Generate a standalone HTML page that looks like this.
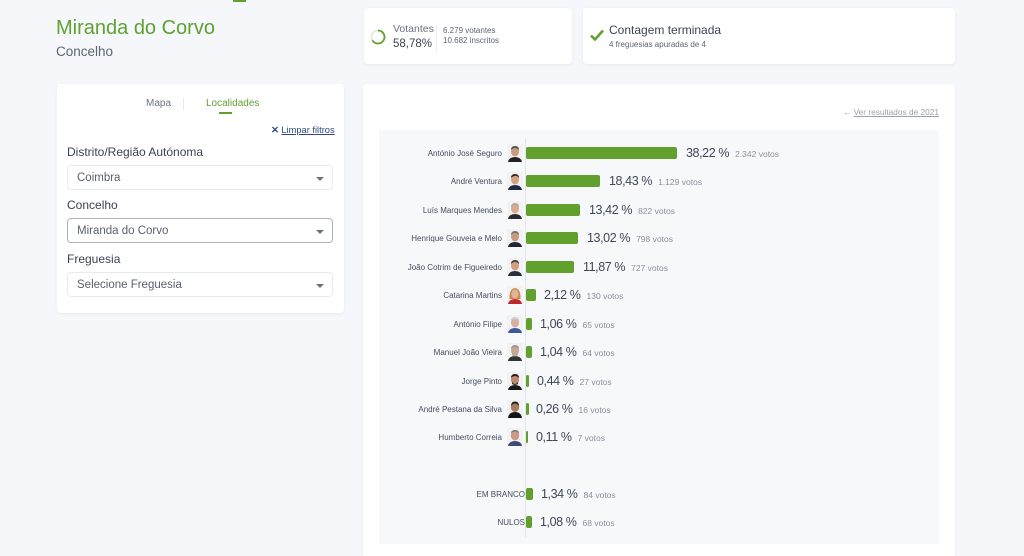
<!DOCTYPE html>
<html><head><meta charset="utf-8">
<style>
*{margin:0;padding:0;box-sizing:border-box}
html,body{width:1024px;height:556px;overflow:hidden}
body{background:#f5f7fb;font-family:"Liberation Sans",sans-serif;position:relative}
.a{position:absolute;white-space:nowrap}
.card{position:absolute;background:#fff;border-radius:4px;box-shadow:0 1px 3px rgba(0,0,0,0.06)}
.sel{position:absolute;left:67px;width:266px;height:25px;border:1px solid #e9ebf0;border-radius:4px;background:#fff}
.sel span{position:absolute;left:9px;top:6px;font-size:11.5px;color:#5a6070}
.sel i{position:absolute;left:248px;top:11px;width:0;height:0;border-left:4px solid transparent;border-right:4px solid transparent;border-top:4px solid #6b7280}
.lbl{position:absolute;left:67px;font-size:12px;color:#3b4252}
.name{position:absolute;right:522px;font-size:8px;color:#454c5c;text-align:right;white-space:nowrap}
.bar{position:absolute;left:526px;height:12px;background:#62a02e;border-radius:2px}
.pct{position:absolute;font-size:12.5px;letter-spacing:-0.4px;color:#3f4656;white-space:nowrap}
.pct small{font-size:8.5px;letter-spacing:0;color:#8a909c;margin-left:6px}
.av{position:absolute;left:507px;width:16px;height:18px}
</style></head><body>

<div class="a" style="left:233px;top:0;width:13px;height:2px;background:#62a02e"></div>
<div class="a" style="left:56px;top:17px;font-size:20px;color:#5fa132">Miranda do Corvo</div>
<div class="a" style="left:56px;top:44px;font-size:13.5px;color:#5d6474">Concelho</div>

<!-- stat cards -->
<div class="card" style="left:364px;top:8px;width:208px;height:56px">
  <svg class="a" style="left:6px;top:21px" width="16" height="16" viewBox="0 0 16 16">
    <circle cx="8" cy="8" r="6.5" fill="none" stroke="#e3e6ea" stroke-width="1.8"/>
    <path d="M8 1.5 A6.5 6.5 0 1 1 2.4 11.3" fill="none" stroke="#62a02e" stroke-width="1.8"/>
  </svg>
  <div class="a" style="left:29px;top:15px;font-size:10.5px;color:#6b7280">Votantes</div>
  <div class="a" style="left:29px;top:30px;font-size:11.5px;color:#3b4252">58,78%</div>
  <div class="a" style="left:72px;top:17px;width:1px;height:27px;background:#eceef2"></div>
  <div class="a" style="left:79px;top:18px;font-size:8px;color:#5d6474">6.279 votantes</div>
  <div class="a" style="left:79px;top:28px;font-size:8px;color:#5d6474">10.682 inscritos</div>
</div>
<div class="card" style="left:583px;top:8px;width:372px;height:56px">
  <svg class="a" style="left:7px;top:21px" width="14" height="12" viewBox="0 0 14 12">
    <path d="M1 6.5 L5 10.5 L13 1.5" fill="none" stroke="#62a02e" stroke-width="2.6"/>
  </svg>
  <div class="a" style="left:26px;top:15px;font-size:12px;color:#3b4252">Contagem terminada</div>
  <div class="a" style="left:26px;top:32px;font-size:8px;color:#5d6474">4 freguesias apuradas de 4</div>
</div>

<!-- left panel -->
<div class="card" style="left:57px;top:84px;width:287px;height:229px"></div>
<div class="a" style="left:146px;top:98px;font-size:10px;color:#6b7280">Mapa</div>
<div class="a" style="left:183px;top:98px;width:1px;height:12px;background:#e5e7eb"></div>
<div class="a" style="left:206px;top:98px;font-size:10px;color:#5fa132">Localidades</div>
<div class="a" style="left:219px;top:112px;width:13px;height:2px;background:#62a02e"></div>
<div class="a" style="left:271px;top:125px;font-size:9.3px;color:#2c4a85"><b>✕</b> <span style="text-decoration:underline">Limpar filtros</span></div>

<div class="lbl" style="top:145px">Distrito/Região Autónoma</div>
<div class="sel" style="top:165px"><span>Coimbra</span><i></i></div>
<div class="lbl" style="top:198px">Concelho</div>
<div class="sel" style="top:218px;border-color:#aeb2ba"><span>Miranda do Corvo</span><i></i></div>
<div class="lbl" style="top:252px">Freguesia</div>
<div class="sel" style="top:272px"><span>Selecione Freguesia</span><i></i></div>

<!-- main panel -->
<div class="card" style="left:363px;top:84px;width:592px;height:472px;border-bottom-left-radius:0;border-bottom-right-radius:0"></div>
<div class="a" style="left:843px;top:107px;font-size:8.3px;color:#9aa0ac">&#8592; <span style="text-decoration:underline">Ver resultados de 2021</span></div>
<div class="a" style="left:379px;top:130px;width:560px;height:414px;background:#f7f8fa"></div>
<div class="a" style="left:525px;top:138px;width:1px;height:399px;background:#e2e5ea"></div>

<!-- rows -->
<div class="name" style="top:149px">António José Seguro</div>
<div class="bar" style="top:147px;width:151px"></div>
<div class="pct" style="left:686px;top:146px">38,22 %<small>2.342 votos</small></div>

<div class="name" style="top:177px">André Ventura</div>
<div class="bar" style="top:175px;width:74px"></div>
<div class="pct" style="left:609px;top:174px">18,43 %<small>1.129 votos</small></div>

<div class="name" style="top:206px">Luís Marques Mendes</div>
<div class="bar" style="top:204px;width:54px"></div>
<div class="pct" style="left:589px;top:203px">13,42 %<small>822 votos</small></div>

<div class="name" style="top:234px">Henrique Gouveia e Melo</div>
<div class="bar" style="top:232px;width:52px"></div>
<div class="pct" style="left:587px;top:231px">13,02 %<small>798 votos</small></div>

<div class="name" style="top:263px">João Cotrim de Figueiredo</div>
<div class="bar" style="top:261px;width:48px"></div>
<div class="pct" style="left:583px;top:260px">11,87 %<small>727 votos</small></div>

<div class="name" style="top:291px">Catarina Martins</div>
<div class="bar" style="top:289px;width:10px"></div>
<div class="pct" style="left:544px;top:288px">2,12 %<small>130 votos</small></div>

<div class="name" style="top:320px">António Filipe</div>
<div class="bar" style="top:318px;width:6px"></div>
<div class="pct" style="left:540px;top:317px">1,06 %<small>65 votos</small></div>

<div class="name" style="top:348px">Manuel João Vieira</div>
<div class="bar" style="top:346px;width:6px"></div>
<div class="pct" style="left:540px;top:345px">1,04 %<small>64 votos</small></div>

<div class="name" style="top:377px">Jorge Pinto</div>
<div class="bar" style="top:375px;width:3px"></div>
<div class="pct" style="left:537px;top:374px">0,44 %<small>27 votos</small></div>

<div class="name" style="top:405px">André Pestana da Silva</div>
<div class="bar" style="top:403px;width:3px"></div>
<div class="pct" style="left:536px;top:402px">0,26 %<small>16 votos</small></div>

<div class="name" style="top:433px">Humberto Correia</div>
<div class="bar" style="top:431px;width:2px"></div>
<div class="pct" style="left:536px;top:430px">0,11 %<small>7 votos</small></div>

<div class="name" style="top:490px;right:499px">EM BRANCO</div>
<div class="bar" style="top:488px;width:7px"></div>
<div class="pct" style="left:541px;top:487px">1,34 %<small>84 votos</small></div>

<div class="name" style="top:518px;right:499px">NULOS</div>
<div class="bar" style="top:516px;width:6px"></div>
<div class="pct" style="left:540px;top:515px">1,08 %<small>68 votos</small></div>

<!-- avatars -->
<svg class="av" style="top:144px" viewBox="0 0 16 18"><rect width="16" height="18" fill="#f2f2f2"/><path d="M1 18 Q2 13 8 13 Q14 13 15 18Z" fill="#222"/><ellipse cx="8" cy="7.5" rx="4" ry="5" fill="#c89a80"/><path d="M4 6 Q4 2 8 2 Q12 2 12 6 Q10 4 8 4 Q6 4 4 6Z" fill="#555"/></svg>
<svg class="av" style="top:172px" viewBox="0 0 16 18"><rect width="16" height="18" fill="#f2f2f2"/><path d="M1 18 Q2 13 8 13 Q14 13 15 18Z" fill="#1f2a44"/><ellipse cx="8" cy="7.5" rx="4" ry="5" fill="#d2a282"/><path d="M4 6 Q4 2 8 2 Q12 2 12 6 Q10 3.5 8 4 Q6 4 4 6Z" fill="#3a2a20"/></svg>
<svg class="av" style="top:201px" viewBox="0 0 16 18"><rect width="16" height="18" fill="#f2f2f2"/><path d="M1 18 Q2 13 8 13 Q14 13 15 18Z" fill="#2a2a2a"/><ellipse cx="8" cy="7.5" rx="4" ry="5" fill="#d8ab90"/><path d="M4 6 Q4 2 8 2 Q12 2 12 6 Q10 4 8 4 Q6 4 4 6Z" fill="#b0aaa0"/></svg>
<svg class="av" style="top:229px" viewBox="0 0 16 18"><rect width="16" height="18" fill="#f2f2f2"/><path d="M1 18 Q2 13 8 13 Q14 13 15 18Z" fill="#1e2535"/><ellipse cx="8" cy="7.5" rx="4" ry="5" fill="#c99a80"/><path d="M4 6 Q4 2 8 2 Q12 2 12 6 Q10 4 8 4 Q6 4 4 6Z" fill="#777"/></svg>
<svg class="av" style="top:258px" viewBox="0 0 16 18"><rect width="16" height="18" fill="#f2f2f2"/><path d="M1 18 Q2 13 8 13 Q14 13 15 18Z" fill="#2a2f3a"/><ellipse cx="8" cy="7.5" rx="4" ry="5" fill="#cfa084"/><path d="M4 6 Q4 2 8 2 Q12 2 12 6 Q10 4 8 4 Q6 4 4 6Z" fill="#4a4038"/></svg>
<svg class="av" style="top:286px" viewBox="0 0 16 18"><rect width="16" height="18" fill="#f2f2f2"/><path d="M1 18 Q2 13 8 13 Q14 13 15 18Z" fill="#c0272d"/><path d="M2.5 13 Q2 3 8 2 Q14 3 13.5 13Z" fill="#c88a45"/><ellipse cx="8" cy="8" rx="3.6" ry="4.6" fill="#e0b49a"/></svg>
<svg class="av" style="top:315px" viewBox="0 0 16 18"><rect width="16" height="18" fill="#f2f2f2"/><path d="M1 18 Q2 13 8 13 Q14 13 15 18Z" fill="#3a5a9a"/><ellipse cx="8" cy="7.5" rx="4" ry="5" fill="#d6b0a0"/><path d="M4 6 Q4 2 8 2 Q12 2 12 6 Q10 4 8 4 Q6 4 4 6Z" fill="#cfcfcf"/></svg>
<svg class="av" style="top:343px" viewBox="0 0 16 18"><rect width="16" height="18" fill="#f2f2f2"/><path d="M1 18 Q2 13 8 13 Q14 13 15 18Z" fill="#333"/><ellipse cx="8" cy="7.5" rx="4" ry="5" fill="#c9a592"/><path d="M4 6 Q4 2 8 2 Q12 2 12 6 Q10 4 8 4 Q6 4 4 6Z" fill="#999"/><path d="M5 10 Q8 14 11 10 L11 12 Q8 15 5 12Z" fill="#aaa"/></svg>
<svg class="av" style="top:372px" viewBox="0 0 16 18"><rect width="16" height="18" fill="#f2f2f2"/><path d="M1 18 Q2 13 8 13 Q14 13 15 18Z" fill="#1a1a1a"/><ellipse cx="8" cy="7.5" rx="4" ry="5" fill="#b98a70"/><path d="M4 6 Q4 2 8 2 Q12 2 12 6 Q10 4 8 4 Q6 4 4 6Z" fill="#2a1f18"/><path d="M5 10 Q8 14 11 10 L11 12 Q8 14 5 12Z" fill="#3a2a20"/></svg>
<svg class="av" style="top:400px" viewBox="0 0 16 18"><rect width="16" height="18" fill="#f2f2f2"/><path d="M1 18 Q2 12 8 12 Q14 12 15 18Z" fill="#151515"/><ellipse cx="8" cy="7" rx="4.2" ry="5" fill="#a87a60"/><path d="M4 6 Q4 1.5 8 1.5 Q12 1.5 12 6 Q10 3.5 8 3.5 Q6 3.5 4 6Z" fill="#222"/></svg>
<svg class="av" style="top:428px" viewBox="0 0 16 18"><rect width="16" height="18" fill="#f2f2f2"/><path d="M1 18 Q2 13 8 13 Q14 13 15 18Z" fill="#3a4a70"/><ellipse cx="8" cy="7.5" rx="4.2" ry="5" fill="#cc9a88"/><path d="M4 5.5 Q4 2 8 2 Q12 2 12 5.5 Q10 3.5 8 3.5 Q6 3.5 4 5.5Z" fill="#777"/></svg>

</body></html>
